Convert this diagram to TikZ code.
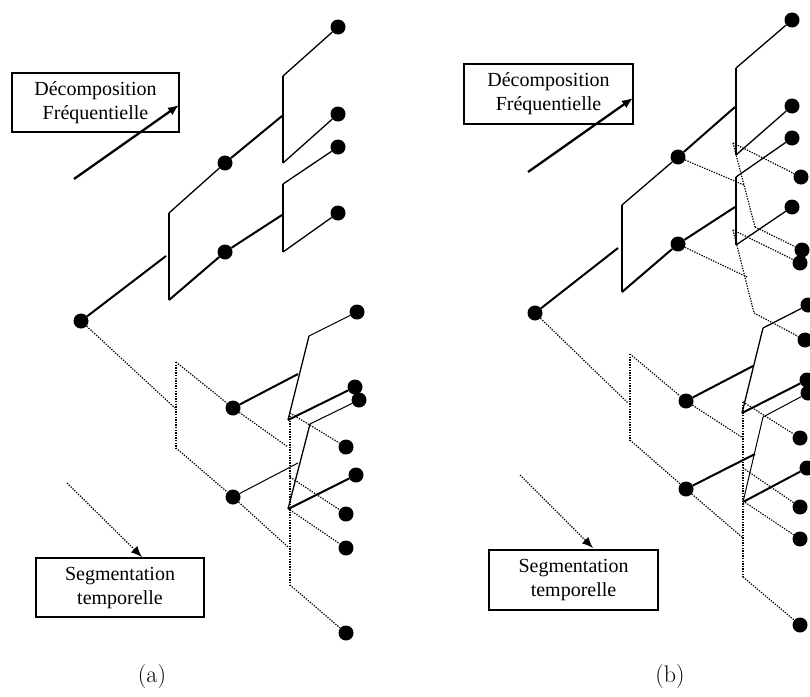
\documentclass[tikz,border=0pt]{standalone}
\usepackage{fontspec}
\newfontfamily\tnr{Liberation Serif}
\usetikzlibrary{arrows.meta}
\tikzset{
  bead/.style={circle, fill=black, inner sep=0pt, minimum size=15pt},
  ln/.style={line width=1.3pt},
  tk/.style={line width=2pt},
  dt/.style={line width=1.2pt, dash pattern=on 1.3pt off 1.3pt},
  lbl/.style={draw, line width=1.4pt, align=center, inner sep=0pt,
    font=\tnr\fontsize{20}{24}\selectfont},
  captxt/.style={font=\fontsize{24}{28}\selectfont},
  arr/.style={-{Latex[length=11pt,width=9pt]}}
}
\begin{document}
\begin{tikzpicture}[x=1pt,y=-1pt]
\useasboundingbox (0,0) rectangle (810,696);
% ================= (a) =================
\node[bead] (aR) at (81,321) {};
\node[bead] (aA1) at (225,163) {};
\node[bead] (aA2) at (225,252) {};
\node[bead] (aF1) at (338,27) {};
\node[bead] (aF2) at (338,114) {};
\node[bead] (aF3) at (338,147) {};
\node[bead] (aF4) at (338,213) {};
\node[bead] (aB1) at (233,408) {};
\node[bead] (aB2) at (233,497) {};
\node[bead] (aG1) at (357,312) {};
\node[bead] (aG2) at (355,387) {};
\node[bead] (aG3) at (359,400) {};
\node[bead] (aG4) at (356,475) {};
\node[bead] (aT1) at (346,447) {};
\node[bead] (aT2) at (346,514) {};
\node[bead] (aT3) at (346,548) {};
\node[bead] (aT4) at (346,633) {};
% solid frequency tree
\coordinate (a0m) at (166,256);
\coordinate (a0t) at (169,213);
\coordinate (a0b) at (169,300);
\coordinate (a1m) at (282,116);
\coordinate (a1t) at (283,76);
\coordinate (a1b) at (283,163);
\coordinate (a2m) at (282,215);
\coordinate (a2t) at (283,184);
\coordinate (a2b) at (283,252);
\draw[tk] (aR) -- (a0m);
\draw[ln] (a0t) -- (a0b);
\draw[ln] (a0t) -- (aA1);
\draw[tk] (aA1) -- (a1m);
\draw[tk] (a0b) -- (aA2) -- (a2m);
\draw[ln] (a1t) -- (a1b);
\draw[ln] (a1t) -- (aF1);
\draw[ln] (a1b) -- (aF2);
\draw[ln] (a2t) -- (a2b);
\draw[ln] (a2t) -- (aF3);
\draw[ln] (a2b) -- (aF4);
% dotted time tree
\coordinate (a3m) at (175,408);
\coordinate (a3t) at (176,362);
\coordinate (a3b) at (176,448);
\coordinate (a4m) at (288,447);
\coordinate (a5m) at (288,547);
\coordinate (a4t) at (290,413);
\coordinate (a4b) at (290,477);
\coordinate (a5t) at (290,510);
\coordinate (a5b) at (290,585);
\draw[dt] (aR) -- (a3m);
\draw[dt] (a3t) -- (a3b);
\draw[dt] (a3t) -- (aB1) -- (a4m);
\draw[dt] (a3b) -- (aB2) -- (a5m);
\draw[dt] (a4t) -- (a5b);
\draw[dt] (a4t) -- (aT1);
\draw[dt] (a4b) -- (aT2);
\draw[dt] (a5t) -- (aT3);
\draw[dt] (a5b) -- (aT4);
% solid slanted brackets
\coordinate (a6m) at (298,374);
\coordinate (a6t) at (309,336);
\coordinate (a6b) at (288,420);
\coordinate (a7m) at (298,463);
\coordinate (a7t) at (310,424);
\coordinate (a7b) at (288,509);
\draw[tk] (aB1) -- (a6m);
\draw[ln] (a6t) -- (a6b);
\draw[line width=1pt] (a6t) -- (aG1);
\draw[tk] (a6b) -- (aG2);
\draw[line width=1pt] (aB2) -- (a7m);
\draw[ln] (a7t) -- (a7b);
\draw[line width=1pt] (a7t) -- (aG3);
\draw[tk] (a7b) -- (aG4);
% labels
\node[lbl, minimum width=167pt, minimum height=59pt] (aDec) at (95.5,102.5) {Décomposition\\Fréquentielle};
\coordinate (aDs) at (74,179);
\coordinate (aDe) at (179,105);
\draw[line width=2.3pt, arr] (aDs) -- (aDe);
\node[lbl, minimum width=168pt, minimum height=59pt] (aSeg) at (120,587.5) {Segmentation\\temporelle};
\coordinate (aSs) at (67,483);
\coordinate (aSe) at (142,557);
\draw[dt, arr] (aSs) -- (aSe);
\node[captxt] (aCap) at (152,676) {(a)};
% ================= (b) =================
\node[bead] (bR) at (535,313) {};
\node[bead] (bA1) at (678,157) {};
\node[bead] (bA2) at (678,244) {};
\node[bead] (bF1) at (792,20) {};
\node[bead] (bF2) at (792,106) {};
\node[bead] (bF3) at (792,138) {};
\node[bead] (bF4) at (792,207) {};
\node[bead] (bU1) at (801,177) {};
\node[bead] (bU2) at (802,250) {};
\node[bead] (bU3) at (800,263) {};
\node[bead] (bU4) at (805,340) {};
\node[bead] (bB1) at (686,401) {};
\node[bead] (bB2) at (686,489) {};
\node[bead] (bG1) at (808,305) {};
\node[bead] (bG2) at (807,380) {};
\node[bead] (bG3) at (808,393) {};
\node[bead] (bG4) at (807,468) {};
\node[bead] (bT1) at (800,438) {};
\node[bead] (bT2) at (800,507) {};
\node[bead] (bT3) at (800,539) {};
\node[bead] (bT4) at (800,625) {};
% solid frequency tree
\coordinate (b0m) at (618,248);
\coordinate (b0t) at (622,205);
\coordinate (b0b) at (622,292);
\coordinate (b1m) at (735,107);
\coordinate (b1t) at (736,68);
\coordinate (b1b) at (736,155);
\coordinate (b2m) at (735,207);
\coordinate (b2t) at (736,177);
\coordinate (b2b) at (736,245);
\draw[tk] (bR) -- (b0m);
\draw[ln] (b0t) -- (b0b);
\draw[ln] (b0t) -- (bA1);
\draw[tk] (bA1) -- (b1m);
\draw[tk] (b0b) -- (bA2) -- (b2m);
\draw[tk] (b1t) -- (b1b);
\draw[ln] (b1t) -- (bF1);
\draw[ln] (b1b) -- (bF2);
\draw[tk] (b2t) -- (b2b);
\draw[ln] (b2t) -- (bF3);
\draw[ln] (b2b) -- (bF4);
% dotted brackets on frequency bands
\coordinate (b8m) at (744,185);
\coordinate (b8t) at (733,143);
\coordinate (b8b) at (755,227);
\coordinate (b9m) at (747,277);
\coordinate (b9t) at (733,230);
\coordinate (b9b) at (754,313);
\draw[dt] (bA1) -- (b8m);
\draw[dt] (b8t) -- (b8b);
\draw[dt] (b8t) -- (bU1);
\draw[dt] (b8b) -- (bU2);
\draw[dt] (bA2) -- (b9m);
\draw[dt] (b9t) -- (b9b);
\draw[dt] (b9t) -- (bU3);
\draw[dt] (b9b) -- (bU4);
% dotted time tree
\coordinate (b3m) at (628,403);
\coordinate (b3t) at (630,354);
\coordinate (b3b) at (630,440);
\coordinate (b4m) at (743,438);
\coordinate (b5m) at (743,538);
\coordinate (b4t) at (743,402);
\coordinate (b4b) at (743,468);
\coordinate (b5t) at (743,501);
\coordinate (b5b) at (743,577);
\draw[dt] (bR) -- (b3m);
\draw[dt] (b3t) -- (b3b);
\draw[dt] (b3t) -- (bB1) -- (b4m);
\draw[dt] (b3b) -- (bB2) -- (b5m);
\draw[dt] (b4t) -- (b5b);
\draw[dt] (b4t) -- (bT1);
\draw[dt] (b4b) -- (bT2);
\draw[dt] (b5t) -- (bT3);
\draw[dt] (b5b) -- (bT4);
% solid slanted brackets
\coordinate (b6m) at (753,366);
\coordinate (b6t) at (763,328);
\coordinate (b6b) at (742,413);
\coordinate (b7m) at (755,454);
\coordinate (b7t) at (763,417);
\coordinate (b7b) at (743,502);
\draw[tk] (bB1) -- (b6m);
\draw[ln] (b6t) -- (b6b);
\draw[ln] (b6t) -- (bG1);
\draw[tk] (b6b) -- (bG2);
\draw[tk] (bB2) -- (b7m);
\draw[line width=1pt] (b7t) -- (b7b);
\draw[line width=1pt] (b7t) -- (bG3);
\draw[tk] (b7b) -- (bG4);
% labels
\node[lbl, minimum width=169pt, minimum height=60pt] (bDec) at (548.5,94) {Décomposition\\Fréquentielle};
\coordinate (bDs) at (528,172);
\coordinate (bDe) at (633,98);
\draw[line width=2.3pt, arr] (bDs) -- (bDe);
\node[lbl, minimum width=169pt, minimum height=60pt] (bSeg) at (573.5,580) {Segmentation\\temporelle};
\coordinate (bSs) at (520,475);
\coordinate (bSe) at (593,548);
\draw[dt, arr] (bSs) -- (bSe);
\node[captxt] (bCap) at (670,676) {(b)};
\end{tikzpicture}
\end{document}
